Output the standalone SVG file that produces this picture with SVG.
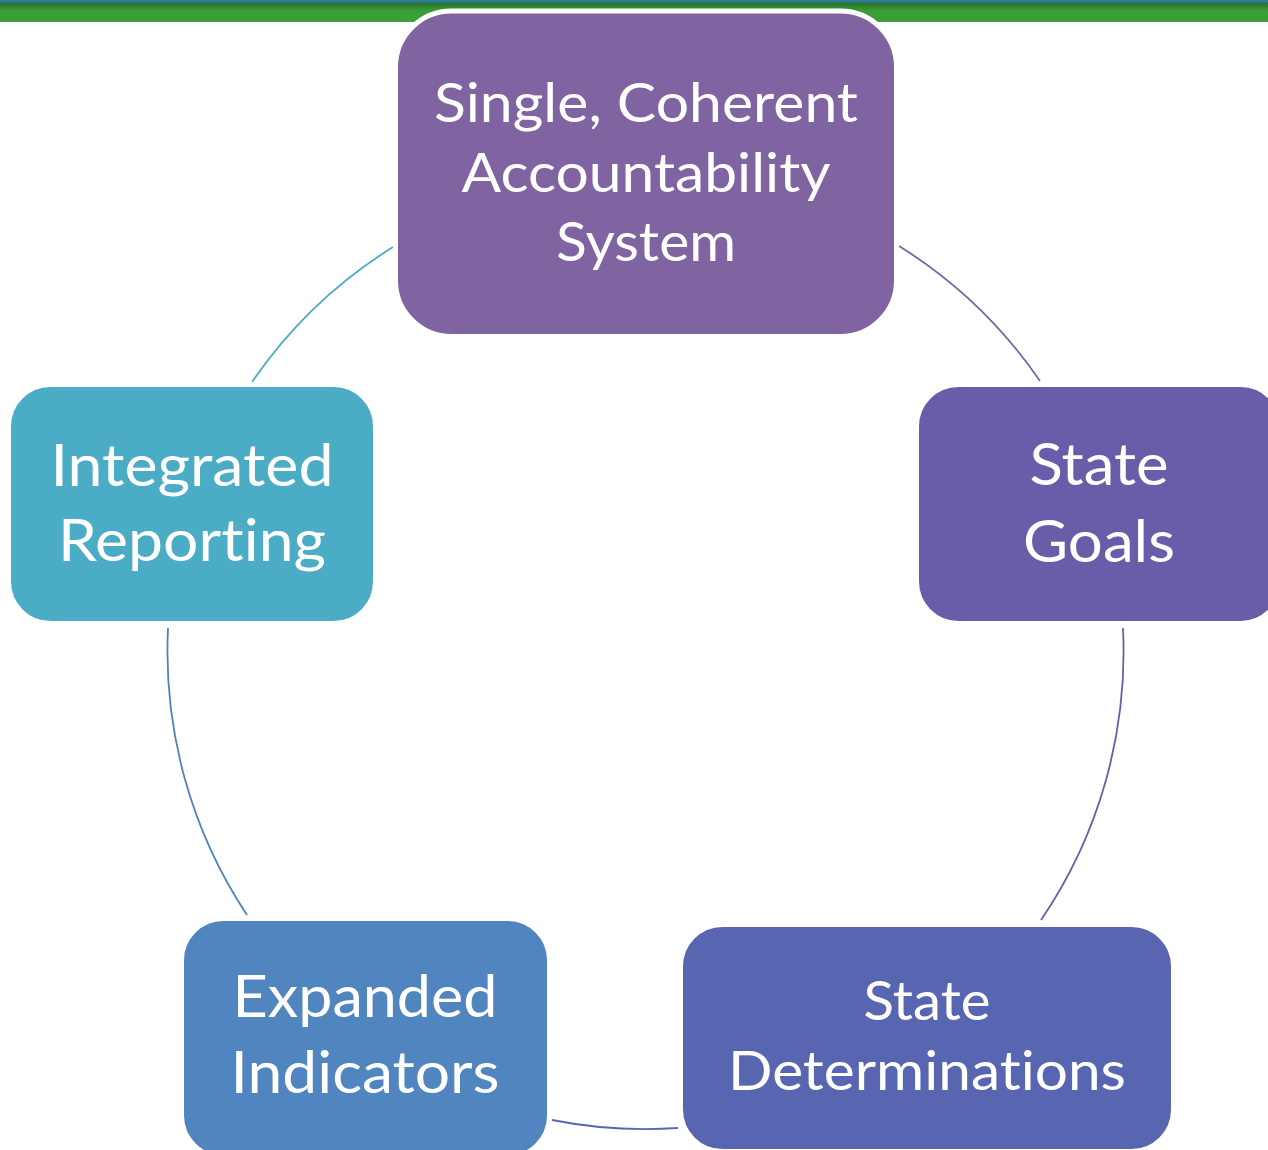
<svg xmlns="http://www.w3.org/2000/svg" width="1268" height="1150" viewBox="0 0 1268 1150">
  <defs>
    <linearGradient id="barGrad" x1="0" y1="0" x2="0" y2="1">
      <stop offset="0" stop-color="#2A6B2A"/>
      <stop offset="0.45" stop-color="#3A9E37"/>
      <stop offset="1" stop-color="#3BA038"/>
    </linearGradient>
    <style>
      .node { stroke: #FFFFFF; stroke-width: 5; }
      .lbl { font-family: Lato, "Noto Sans", "DejaVu Sans", sans-serif; fill: #FFFFFF; text-anchor: middle; font-variant-ligatures: none; font-feature-settings: "liga" 0, "clig" 0; }
      .big { font-size: 59px; }
      .mid { font-size: 54px; }
      .conn { fill: none; stroke-width: 1.8; }
    </style>
  </defs>
  <rect x="0" y="0" width="1268" height="1150" fill="#FFFFFF"/>
  <!-- top bar -->
  <rect x="0" y="2" width="1268" height="20" fill="url(#barGrad)"/>
  <rect x="0" y="0" width="1268" height="2.5" fill="#2E7D9E"/>

  <g id="connectors">
    <path class="conn" stroke="#7D64A5" d="M 899 246 A 477 477 0 0 1 1040 381"/>
    <path class="conn" stroke="#6A5EAB" d="M 1123 628 A 477 477 0 0 1 1041 920"/>
    <path class="conn" stroke="#5866B2" d="M 678 1128 A 477 477 0 0 1 552 1120"/>
    <path class="conn" stroke="#5082BE" d="M 247 915 A 477 477 0 0 1 168 628"/>
    <path class="conn" stroke="#4BACC6" d="M 252 382 A 477 477 0 0 1 393 247"/>
  </g>

  <g id="node-single-coherent">
    <rect class="node" x="395.5" y="11" width="501" height="325.5" rx="56" ry="56" fill="#8064A2"/>
    <text class="lbl mid" x="646" y="122" textLength="424" lengthAdjust="spacingAndGlyphs">Single, Coherent</text>
    <text class="lbl mid" x="646" y="192" textLength="369" lengthAdjust="spacingAndGlyphs">Accountability</text>
    <text class="lbl mid" x="646" y="261" textLength="180" lengthAdjust="spacingAndGlyphs">System</text>
  </g>

  <g id="node-state-goals">
    <rect class="node" x="916.5" y="384.5" width="366" height="239" rx="42" ry="42" fill="#685DA9"/>
    <text class="lbl big" x="1099" y="485" textLength="139" lengthAdjust="spacingAndGlyphs">State</text>
    <text class="lbl big" x="1099" y="562" textLength="152" lengthAdjust="spacingAndGlyphs">Goals</text>
  </g>

  <g id="node-state-determinations">
    <rect class="node" x="680.5" y="924.5" width="493" height="227" rx="42" ry="42" fill="#5866B2"/>
    <text class="lbl mid" x="927" y="1020" textLength="127" lengthAdjust="spacingAndGlyphs">State</text>
    <text class="lbl mid" x="927" y="1090" textLength="398" lengthAdjust="spacingAndGlyphs">Determinations</text>
  </g>

  <g id="node-expanded-indicators">
    <rect class="node" x="181.5" y="918.5" width="368" height="239" rx="42" ry="42" fill="#5185BF"/>
    <text class="lbl big" x="365" y="1017" textLength="265" lengthAdjust="spacingAndGlyphs">Expanded</text>
    <text class="lbl big" x="365" y="1093" textLength="269" lengthAdjust="spacingAndGlyphs">Indicators</text>
  </g>

  <g id="node-integrated-reporting">
    <rect class="node" x="8.5" y="384.5" width="367" height="239" rx="42" ry="42" fill="#4BACC6"/>
    <text class="lbl big" x="192" y="486" textLength="283" lengthAdjust="spacingAndGlyphs">Integrated</text>
    <text class="lbl big" x="192" y="561" textLength="268" lengthAdjust="spacingAndGlyphs">Reporting</text>
  </g>
</svg>
